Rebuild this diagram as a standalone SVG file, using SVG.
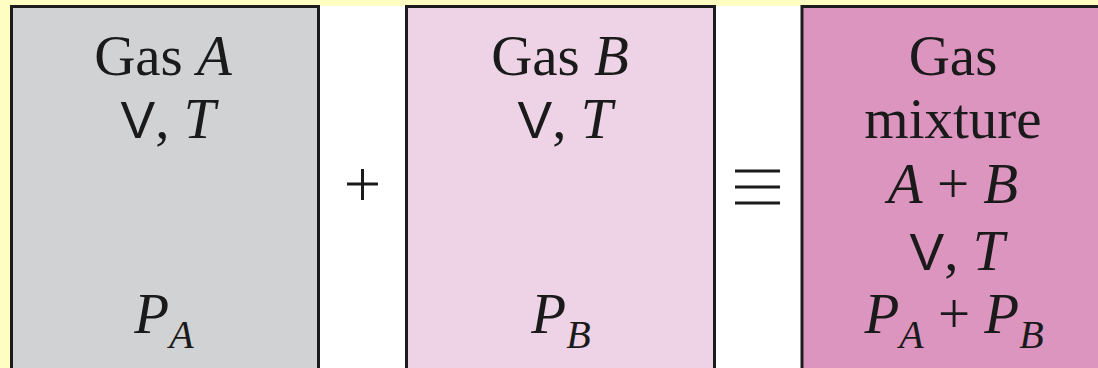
<svg xmlns="http://www.w3.org/2000/svg" width="1098" height="368" viewBox="0 0 1098 368">
<style>
.box{stroke:#1c1c1c;stroke-width:3}
.t{font-family:"Liberation Serif","Times New Roman",serif;font-size:57px;fill:#1a1a1a;text-anchor:middle}
.i{font-style:italic}
.v{font-family:"Liberation Sans",Arial,sans-serif;font-size:52px;font-style:normal}
.sub{font-size:40px;font-style:italic}
.op{stroke:#1a1a1a;fill:none}
</style>
<rect x="0" y="0" width="1098" height="368" fill="#FFFEC2"/>
<rect x="11" y="6" width="1087" height="362" fill="#FFFFFF"/>
<g id="gasA">
<rect class="box" x="11.5" y="6.5" width="307" height="370" fill="#D1D2D4"/>
<text class="t" x="163" y="75">Gas <tspan class="i">A</tspan></text>
<text class="t" x="168" y="138"><tspan class="v">V</tspan>, <tspan class="i">T</tspan></text>
<text class="t i" x="164" y="333">P<tspan class="sub" dy="15">A</tspan></text>
</g>
<g id="plus">
<path class="op" stroke-width="3" d="M347 184H378M362.5 169V200"/>
</g>
<g id="gasB">
<rect class="box" x="406.5" y="6.5" width="308" height="370" fill="#EDD3E5"/>
<text class="t" x="560" y="75">Gas <tspan class="i">B</tspan></text>
<text class="t" x="565" y="138"><tspan class="v">V</tspan>, <tspan class="i">T</tspan></text>
<text class="t i" x="561" y="333">P<tspan class="sub" dy="15">B</tspan></text>
</g>
<g id="equiv">
<path class="op" stroke-width="3" d="M735 171H780M735 187H780M735 203H780"/>
</g>
<g id="mixture">
<rect class="box" x="802" y="6.5" width="310" height="370" fill="#DC95BF"/>
<text class="t" x="953" y="75">Gas</text>
<text class="t" x="953" y="138">mixture</text>
<text class="t" x="953" y="203"><tspan class="i">A</tspan>  + <tspan class="i">B</tspan></text>
<text class="t" x="957" y="270"><tspan class="v">V</tspan>, <tspan class="i">T</tspan></text>
<text class="t" x="954" y="333"><tspan class="i">P</tspan><tspan class="sub" dy="15">A</tspan><tspan dy="-15"> + </tspan><tspan class="i">P</tspan><tspan class="sub" dy="15">B</tspan></text>
</g>
</svg>
